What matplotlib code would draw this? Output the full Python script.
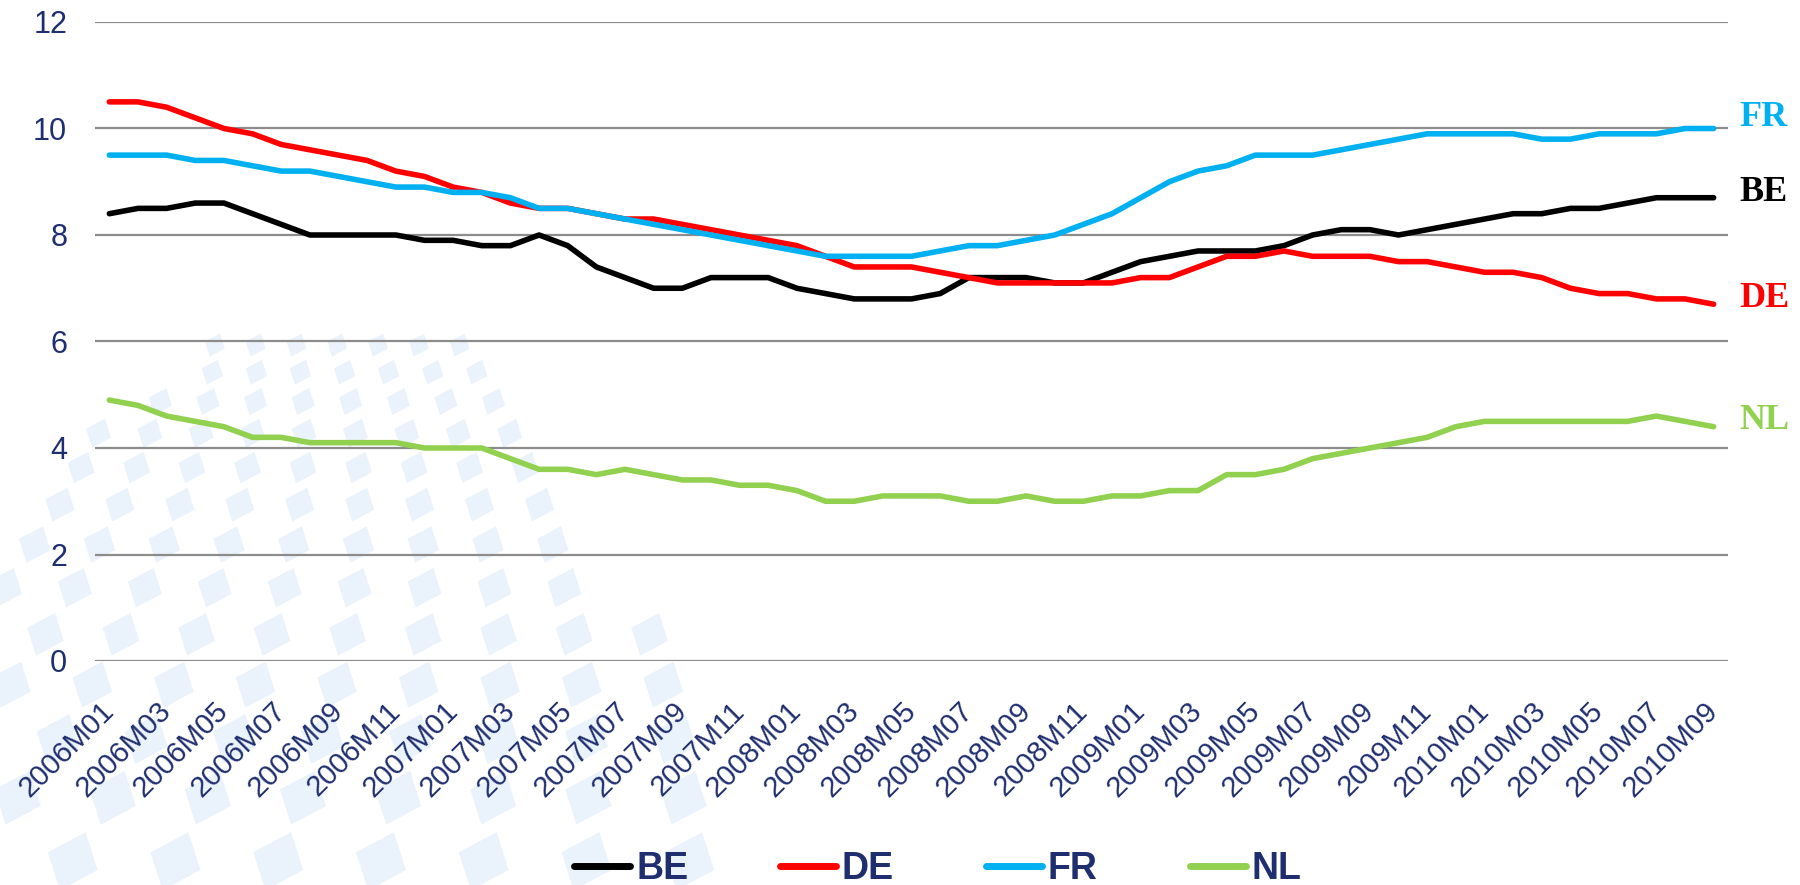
import matplotlib.pyplot as plt
from matplotlib.patches import Polygon
import numpy as np

# monthly series, 2006M01 .. 2010M09
months = [f"{y}M{m:02d}" for y in range(2006, 2011) for m in range(1, 13)][:57]

be = [8.4, 8.5, 8.5, 8.6, 8.6, 8.4, 8.2, 8.0, 8.0, 8.0, 8.0, 7.9, 7.9, 7.8, 7.8,
      8.0, 7.8, 7.4, 7.2, 7.0, 7.0, 7.2, 7.2, 7.2, 7.0, 6.9, 6.8, 6.8, 6.8, 6.9,
      7.2, 7.2, 7.2, 7.1, 7.1, 7.3, 7.5, 7.6, 7.7, 7.7, 7.7, 7.8, 8.0, 8.1, 8.1,
      8.0, 8.1, 8.2, 8.3, 8.4, 8.4, 8.5, 8.5, 8.6, 8.7, 8.7, 8.7]
de = [10.5, 10.5, 10.4, 10.2, 10.0, 9.9, 9.7, 9.6, 9.5, 9.4, 9.2, 9.1, 8.9, 8.8, 8.6,
      8.5, 8.5, 8.4, 8.3, 8.3, 8.2, 8.1, 8.0, 7.9, 7.8, 7.6, 7.4, 7.4, 7.4, 7.3,
      7.2, 7.1, 7.1, 7.1, 7.1, 7.1, 7.2, 7.2, 7.4, 7.6, 7.6, 7.7, 7.6, 7.6, 7.6,
      7.5, 7.5, 7.4, 7.3, 7.3, 7.2, 7.0, 6.9, 6.9, 6.8, 6.8, 6.7]
fr = [9.5, 9.5, 9.5, 9.4, 9.4, 9.3, 9.2, 9.2, 9.1, 9.0, 8.9, 8.9, 8.8, 8.8, 8.7,
      8.5, 8.5, 8.4, 8.3, 8.2, 8.1, 8.0, 7.9, 7.8, 7.7, 7.6, 7.6, 7.6, 7.6, 7.7,
      7.8, 7.8, 7.9, 8.0, 8.2, 8.4, 8.7, 9.0, 9.2, 9.3, 9.5, 9.5, 9.5, 9.6, 9.7,
      9.8, 9.9, 9.9, 9.9, 9.9, 9.8, 9.8, 9.9, 9.9, 9.9, 10.0, 10.0]
nl = [4.9, 4.8, 4.6, 4.5, 4.4, 4.2, 4.2, 4.1, 4.1, 4.1, 4.1, 4.0, 4.0, 4.0, 3.8,
      3.6, 3.6, 3.5, 3.6, 3.5, 3.4, 3.4, 3.3, 3.3, 3.2, 3.0, 3.0, 3.1, 3.1, 3.1,
      3.0, 3.0, 3.1, 3.0, 3.0, 3.1, 3.1, 3.2, 3.2, 3.5, 3.5, 3.6, 3.8, 3.9, 4.0,
      4.1, 4.2, 4.4, 4.5, 4.5, 4.5, 4.5, 4.5, 4.5, 4.6, 4.5, 4.4]

names = ['BE', 'DE', 'FR', 'NL']
series = [be, de, fr, nl]
colors = ['#000000', '#ff0000', '#00b0f0', '#92d050']
navy = '#1f2e6e'

W, H = 1800, 885
fig = plt.figure(figsize=(W / 100, H / 100), dpi=100)
fig.patch.set_facecolor('white')

# faint background pattern of tilted squares (bottom left)
bg = '#eaf2fb'
row = 0
y = 345.0
while y < 905:
    s = 17 + (y - 345) * 0.05
    step = s * 2.4
    x = -30 + (row % 2) * step / 2
    while x < 760:
        top = 340 + max(0, 220 - x) * 0.75
        right = 480 + max(0, y - 350) * 0.6
        if y > top and x < min(right, 700):
            ang = np.radians(-28)
            c, sn = np.cos(ang), np.sin(ang)
            pts = []
            for dx, dy in [(-s / 2, -s / 2), (s / 2, -s / 2), (s / 2, s / 2), (-s / 2, s / 2)]:
                px = x + dx * c - dy * sn * 0.6
                py = y + dx * sn + dy * c
                pts.append((px / W, 1 - py / H))
            fig.patches.append(Polygon(pts, closed=True, color=bg, lw=0,
                                       transform=fig.transFigure, zorder=-10))
        x += step
    y += s * 1.6
    row += 1

ax = fig.add_axes([95 / W, 1 - 661 / H, (1728 - 95) / W, (661 - 22) / H])
ax.set_facecolor('none')

xs = np.arange(len(months))
label_dy = {'FR': 11, 'BE': 5, 'DE': 6, 'NL': 6}
for name, vals, col in zip(names, series, colors):
    ax.plot(xs, vals, color=col, lw=4.0, label=name, solid_capstyle='round',
            solid_joinstyle='round', zorder=3)
    ax.annotate(name, (xs[-1], vals[-1]), xytext=(26, label_dy[name]),
                textcoords='offset pixels', ha='left', va='center', color=col,
                fontsize=26, fontweight='bold', family='Liberation Serif',
                annotation_clip=False)

ax.set_xlim(-0.5, len(months) - 0.5)
ax.set_ylim(0, 12)
ax.set_yticks(range(0, 13, 2))
ax.yaxis.grid(True, color='#8c8c8c', lw=1.6)
ax.set_axisbelow(True)
for sp in ax.spines.values():
    sp.set_visible(False)

ax.set_xticks(xs[::2])
ax.set_xticklabels(months[::2], rotation=45, ha='right', va='center',
                   rotation_mode='anchor', family='Liberation Sans', fontsize=21, color=navy)
ax.tick_params(axis='x', length=0, pad=33)
ax.tick_params(axis='y', length=0, pad=20, labelsize=22, labelcolor=navy)
for t in ax.get_yticklabels():
    t.set_family('Liberation Sans')

leg = fig.legend(loc='center', bbox_to_anchor=(0.521, 0.018), ncol=4, frameon=False,
                 handlelength=1.5, handletextpad=0.15, columnspacing=2.45,
                 prop={'family': 'Liberation Sans', 'weight': 'bold', 'size': 27})
for t in leg.get_texts():
    t.set_color(navy)
for h in leg.legend_handles:
    h.set_linewidth(5)
    h.set_solid_capstyle('round')

fig.savefig('out.png', dpi=100, facecolor='white')
